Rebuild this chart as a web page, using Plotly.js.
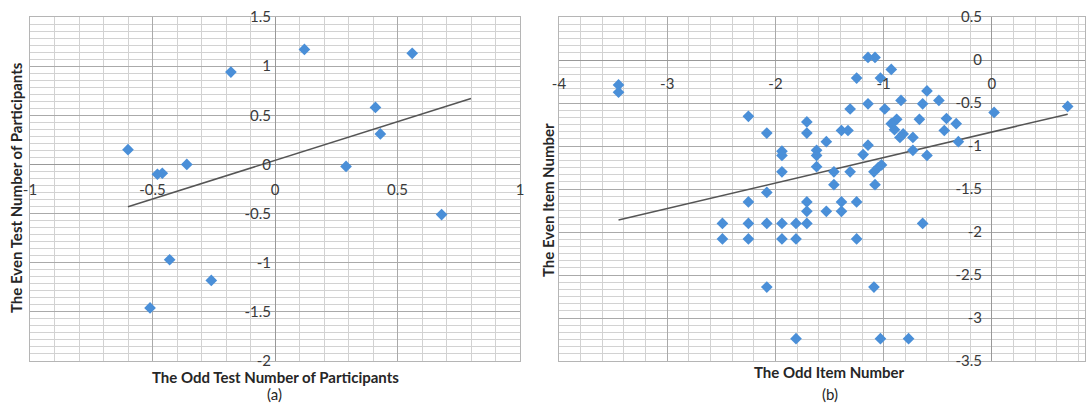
<!DOCTYPE html>
<html>
<head>
<meta charset="utf-8">
<script src="https://cdn.plot.ly/plotly-3.0.1.min.js"></script>
<style>
  html, body { margin: 0; padding: 0; background: #ffffff; }
  #chart { width: 1089px; height: 403px; }
</style>
</head>
<body>
<div id="chart"></div>
<script>
// ---------- Data: chart (a) ----------
const aOddTest = [-0.60, -0.48, -0.46, -0.36, -0.18, 0.12, 0.56, 0.41, 0.43, 0.29, -0.43, -0.26, -0.51, 0.68];
const aEvenTest = [0.15, -0.10, -0.09, 0.00, 0.94, 1.17, 1.13, 0.58, 0.31, -0.02, -0.97, -1.18, -1.46, -0.51];
const aTrendX = [-0.60, 0.80];
const aTrendY = [-0.43, 0.67];
const aXTicks = [-1, -0.5, 0, 0.5, 1];
const aYTicks = [-2, -1.5, -1, -0.5, 0, 0.5, 1, 1.5];

// ---------- Data: chart (b) ----------
const bOddItem = [
  -3.45, -3.45, -2.25, -2.08, -1.94, -1.94, -1.94, -1.71, -1.71, -2.08,
  -1.53, -1.62, -1.62, -1.62, -1.46, -1.46, -1.31, -1.39, -1.33, -2.25,
  -1.71, -1.71, -1.53, -1.39, -1.39, -1.25, -2.49, -2.25, -2.08, -1.94,
  -1.81, -1.71, -2.49, -2.25, -1.94, -1.81, -1.25, -2.08, -1.81, -1.145,
  -1.08, -0.93, -1.25, -1.03, -0.60, -0.84, -0.49, -1.145, -0.64, -0.99,
  0.02, -0.88, -0.93, -0.90, -0.82, -0.85, -0.73, -0.67, -0.42, -0.33,
  -0.44, -0.31, -1.31, -1.19, -1.145, -1.09, -1.05, -1.02, -1.08, -0.73,
  -0.60, 0.70, -0.64, -1.09, -1.03, -0.77
];
const bEvenItem = [
  -0.29, -0.375, -0.655, -0.85, -1.06, -1.11, -1.30, -0.72, -0.85, -1.54,
  -0.95, -1.05, -1.11, -1.24, -1.30, -1.45, -0.57, -0.82, -0.82, -1.65,
  -1.65, -1.76, -1.76, -1.65, -1.76, -1.65, -1.90, -1.90, -1.90, -1.90,
  -1.90, -1.90, -2.08, -2.08, -2.08, -2.08, -2.08, -2.64, -3.24, 0.03,
  0.03, -0.11, -0.21, -0.21, -0.36, -0.47, -0.47, -0.51, -0.51, -0.57,
  -0.61, -0.69, -0.74, -0.81, -0.86, -0.90, -0.90, -0.69, -0.68, -0.74,
  -0.82, -0.95, -1.30, -1.10, -0.99, -1.30, -1.25, -1.22, -1.45, -1.05,
  -1.11, -0.54, -1.90, -2.64, -3.24, -3.24
];
const bTrendX = [-3.45, 0.70];
const bTrendY = [-1.86, -0.63];
const bXTicks = [-4, -3, -2, -1, 0];
const bYTicks = [-3.5, -3, -2.5, -2, -1.5, -1, -0.5, 0, 0.5];

// ---------- Layout geometry (pixels of the 1089x403 canvas) ----------
const W = 1089, H = 403;
const fx = px => px / W;
const fy = py => 1 - py / H;

const aDomX = [fx(30), fx(520)];
const bDomX = [fx(559), fx(1085)];
const domY = [fy(361), fy(17)];
const aRangeX = [-1, 1], aRangeY = [-2, 1.5];
const bRangeX = [-4, 0.86], bRangeY = [-3.5, 0.5];

function frac(v, r) { return (v - r[0]) / (r[1] - r[0]); }
function posIn(dom, f) { return dom[0] + f * (dom[1] - dom[0]); }

const fmt = v => String(v);
const blue = '#4a8fd8';
const tickFont = { family: 'Lato, "Open Sans", sans-serif', size: 15, color: '#3a3a3a' };
const titleFont = { family: 'Lato, "Open Sans", sans-serif', size: 15, color: '#262626', weight: 'bold' };
const capFont = { family: 'Lato, "Open Sans", sans-serif', size: 15, color: '#262626' };

function gridAxis(domain, range, dtick, minorDtick) {
  return {
    domain: domain, range: range, autorange: false,
    showticklabels: false, ticks: '',
    tick0: 0, dtick: dtick,
    showgrid: true, gridcolor: '#aaaaaa', gridwidth: 1,
    minor: { tick0: 0, dtick: minorDtick, showgrid: true, gridcolor: '#d2d2d2', gridwidth: 1, ticks: '' },
    zeroline: true, zerolinecolor: '#999999', zerolinewidth: 1,
    showline: true, mirror: true, linecolor: '#b5b5b5', linewidth: 1,
    fixedrange: true
  };
}

function labelAxis(over, range, ticks, side, position, standoff) {
  return {
    overlaying: over, anchor: 'free', position: position, side: side,
    range: range, autorange: false,
    tickmode: 'array', tickvals: ticks, ticktext: ticks.map(fmt),
    ticks: '', showgrid: false, zeroline: false, showline: false,
    tickfont: tickFont, ticklabelstandoff: standoff,
    fixedrange: true
  };
}

const layout = {
  width: W, height: H,
  margin: { l: 0, r: 0, t: 0, b: 0, pad: 0 },
  paper_bgcolor: '#ffffff', plot_bgcolor: '#ffffff',
  showlegend: false,
  xaxis: gridAxis(aDomX, aRangeX, 0.5, 0.1),
  yaxis: Object.assign(gridAxis(domY, aRangeY, 0.5, 0.5 / 7), { anchor: 'x' }),
  xaxis2: Object.assign(gridAxis(bDomX, bRangeX, 1, 0.2), { anchor: 'y2' }),
  yaxis2: Object.assign(gridAxis(domY, bRangeY, 0.5, 0.5 / 6), { anchor: 'x2' }),
  xaxis3: labelAxis('x', aRangeX, aXTicks, 'bottom', posIn(domY, frac(0, aRangeY)), 15),
  yaxis3: labelAxis('y', aRangeY, aYTicks, 'left', posIn(aDomX, frac(0, aRangeX)), 4),
  xaxis4: labelAxis('x2', bRangeX, bXTicks, 'bottom', posIn(domY, frac(0, bRangeY)), 13),
  yaxis4: labelAxis('y2', bRangeY, bYTicks, 'left', posIn(bDomX, frac(0, bRangeX)), 10),
  annotations: [
    { text: 'The Odd Test Number of Participants', xref: 'paper', yref: 'paper', x: fx(275), y: fy(377), showarrow: false, font: titleFont, xanchor: 'center', yanchor: 'middle' },
    { text: 'The Even Test Number of Participants', xref: 'paper', yref: 'paper', x: fx(16), y: fy(188), showarrow: false, font: titleFont, textangle: -90, xanchor: 'center', yanchor: 'middle' },
    { text: '(a)', xref: 'paper', yref: 'paper', x: fx(274), y: fy(394), showarrow: false, font: capFont, xanchor: 'center', yanchor: 'middle' },
    { text: 'The Odd Item Number', xref: 'paper', yref: 'paper', x: fx(829), y: fy(372), showarrow: false, font: titleFont, xanchor: 'center', yanchor: 'middle' },
    { text: 'The Even Item Number', xref: 'paper', yref: 'paper', x: fx(548), y: fy(200), showarrow: false, font: titleFont, textangle: -90, xanchor: 'center', yanchor: 'middle' },
    { text: '(b)', xref: 'paper', yref: 'paper', x: fx(830), y: fy(394), showarrow: false, font: capFont, xanchor: 'center', yanchor: 'middle' }
  ]
};

const marker = { symbol: 'diamond', size: 9, color: blue, line: { width: 0 } };
const trendLine = { color: '#555555', width: 1.5 };

const data = [
  { type: 'scatter', mode: 'lines', x: aTrendX, y: aTrendY, xaxis: 'x', yaxis: 'y', line: trendLine, hoverinfo: 'skip' },
  { type: 'scatter', mode: 'markers', x: aOddTest, y: aEvenTest, xaxis: 'x', yaxis: 'y', marker: marker, name: '(a)' },
  { type: 'scatter', mode: 'lines', x: bTrendX, y: bTrendY, xaxis: 'x2', yaxis: 'y2', line: trendLine, hoverinfo: 'skip' },
  { type: 'scatter', mode: 'markers', x: bOddItem, y: bEvenItem, xaxis: 'x2', yaxis: 'y2', marker: marker, name: '(b)' },
  // empty traces so the label-only axes are drawn
  { type: 'scatter', x: [], y: [], xaxis: 'x3', yaxis: 'y', hoverinfo: 'skip' },
  { type: 'scatter', x: [], y: [], xaxis: 'x', yaxis: 'y3', hoverinfo: 'skip' },
  { type: 'scatter', x: [], y: [], xaxis: 'x4', yaxis: 'y2', hoverinfo: 'skip' },
  { type: 'scatter', x: [], y: [], xaxis: 'x2', yaxis: 'y4', hoverinfo: 'skip' }
];

Plotly.newPlot('chart', data, layout, { staticPlot: true, displayModeBar: false });
</script>
</body>
</html>
